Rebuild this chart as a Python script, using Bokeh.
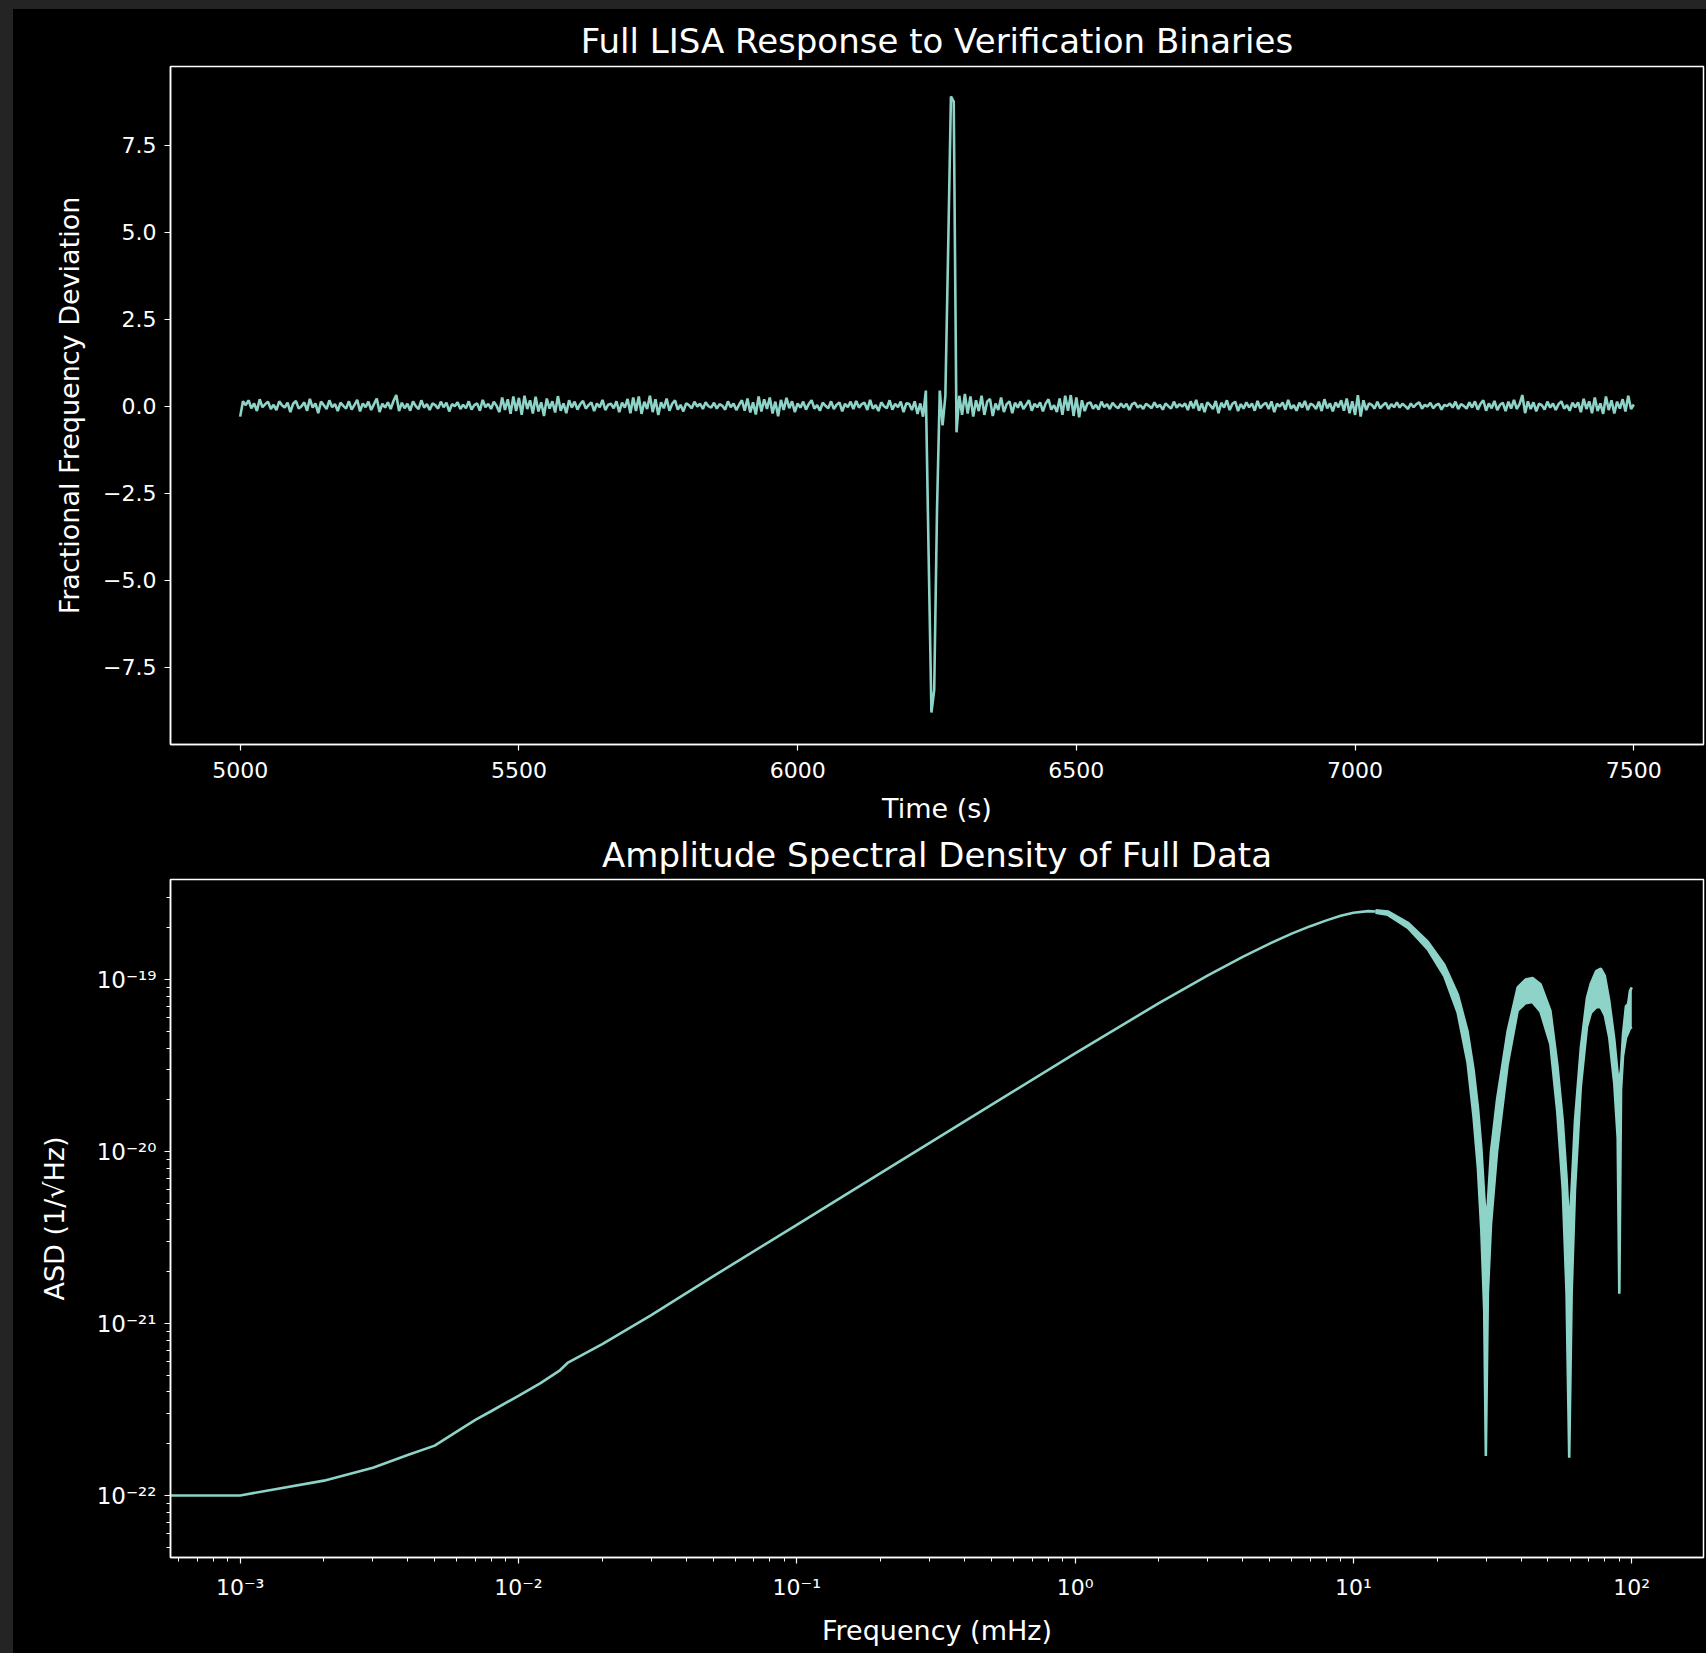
import numpy as np
from bokeh.plotting import figure
from bokeh.layouts import column, row
from bokeh.models import Range1d, FixedTicker, CustomJSTickFormatter, Label, Spacer
from bokeh.embed import file_html
from bokeh.resources import INLINE

# ---------------- data ----------------
# Time series: fractional frequency deviation, sampled every 5 s from 5000 s, in units of 1e-21
t_start = 5000
t_step = 5
ffd_e21 = [
    -30, 14, 3, 17, -6, 8, -14, 20, -3, 6, 13, -8, 4, -11, 14, 3, -4, 10, -17, 7,
    15, -7, 0, 11, -13, 21, -4, 8, -20, 13, 3, -8, 17, -3, 6, -14, 10, 1, -7, 14,
    -10, 4, 18, -15, 8, -3, 13, -11, 6, 22, -17, 7, -4, 11, -8, 15, 32, -14, 10, -6,
    7, -13, 14, 0, -8, 17, -4, 6, -11, 8, 3, -7, 13, -3, 10, -15, 6, 0, 11, -8,
    4, -6, 14, -10, 3, 8, -13, 18, -3, 7, -8, 13, 1, -17, 25, -11, 20, -22, 28, -14,
    24, -25, 30, -8, 17, -21, 27, -15, 11, -28, 22, -7, 14, -18, 29, -13, 8, -20, 17, -4,
    13, -10, 6, 15, -7, 3, 11, -14, 8, -3, 18, -11, 4, 7, -6, 14, -17, 10, -4, 21,
    -20, 25, -14, 28, -22, 13, -8, 30, -17, 20, -25, 11, -6, 22, -13, 7, 17, -10, 4, -15,
    8, 3, -6, 13, -1, 7, -8, 11, 0, -4, 10, -7, 6, 1, -10, 14, -3, 8, -11, 4,
    17, -13, 22, -18, 11, -24, 28, -15, 20, -8, 25, -21, 13, -29, 18, -11, 24, -6, 14, -17,
    8, -4, 13, -10, 6, 17, -7, 3, -13, 10, 1, -6, 14, -8, 4, 11, -15, 7, -3, 13,
    -8, 15, -4, 6, 10, -11, 18, -7, 3, -14, 11, 0, -6, 17, -10, 7, -3, 13, -17, 8,
    7, -11, 14, -22, 8, -30, 45, -430, -880, -815, -300, 45, -55, 30, 450, 890, 875, -75, 30, -25,
    35, -21, 28, -30, 17, -14, 30, -25, 13, 21, -28, 8, -11, 25, -17, 6, 14, -20, 10, -4,
    13, -8, 4, 17, -13, 7, -3, 11, -15, 8, 20, -10, 3, -17, 22, -25, 30, -13, 32, -28,
    25, -32, 17, -14, 8, 11, -7, 4, -10, 13, -3, 6, -8, 10, 0, -6, 8, -4, 7, -11,
    6, 10, -4, 3, -8, 7, 1, -6, 11, -3, 4, -10, 8, 0, -7, 13, -4, 6, -1, 8,
    -11, 14, -6, 18, -13, 8, -17, 11, 3, -8, 15, -20, 10, -4, 17, -11, 7, 13, -14, 6,
    -7, 11, -3, 8, -13, 15, -6, 4, 10, -8, 14, -17, 7, -1, 11, -10, 18, -7, 3, -13,
    10, -4, 15, -11, 7, 3, -8, 13, -14, 20, -6, 8, -15, 11, -3, 17, -13, 22, -20, 14,
    -25, 32, -30, 17, -11, 8, 4, -7, 13, -6, 3, 10, -8, 6, -3, 11, -4, 7, 0, -8,
    8, -3, 6, 11, -7, 4, -1, 10, -6, 3, 7, -10, 4, 0, 8, -4, 13, -8, 6, 1,
    -7, 11, -4, 14, -10, 7, 17, -13, 8, -6, 15, -11, 4, 10, -14, 13, -7, 18, -8, 6,
    32, -20, 14, -8, 11, -15, 7, 3, -10, 13, -4, 8, -11, 6, 14, -7, 3, -13, 10, -3,
    11, -17, 21, -8, 14, -20, 25, -14, 8, -22, 28, -11, 17, -21, 13, -7, 20, -15, 30, -8,
    5,
]

# ASD main curve (frequency in mHz, ASD in 1/sqrt(Hz))
asd_freq_mhz = [5e-4, 1e-3, 2e-3, 3e-3, 4e-3, 5e-3, 6e-3, 7e-3, 8e-3, 1e-2, 1.2e-2, 1.4e-2,
                1.5e-2, 2e-2, 3e-2, 5e-2, 0.1, 0.2, 0.5, 1, 2, 3, 4, 5, 6, 7, 8, 9, 10, 11.3, 12]
asd_value = [1.0e-22, 1.0e-22, 1.22e-22, 1.45e-22, 1.72e-22, 1.95e-22, 2.35e-22, 2.75e-22,
             3.1e-22, 3.8e-22, 4.5e-22, 5.3e-22, 5.9e-22, 7.6e-22, 1.12e-21, 1.88e-21,
             3.75e-21, 7.5e-21, 1.87e-20, 3.72e-20, 7.3e-20, 1.057e-19, 1.357e-19, 1.62e-19,
             1.85e-19, 2.045e-19, 2.21e-19, 2.35e-19, 2.45e-19, 2.5e-19, 2.49e-19]

# High-frequency part: the trace oscillates rapidly, forming a band (upper / lower envelope)
band_freq_mhz = [12, 13.3, 15.7, 18.5, 21.2, 23.7, 25.7, 27.0, 28.0, 28.8, 29.5, 29.9, 30.4,
                 31.2, 32.8, 35.8, 38.9, 41.5, 44.0, 47.0, 51.0, 54.0, 56.5, 58.3, 59.6, 60.8,
                 62.5, 65.6, 69.0, 71.3, 74.5, 77.4, 80.0, 83.0, 86.5, 89.0, 90.2, 91.5, 93.0,
                 95.3, 97.0, 98.5, 100.0]
band_upper = [2.53e-19, 2.49e-19, 2.14e-19, 1.66e-19, 1.22e-19, 8.2e-20, 5.0e-20, 3.0e-20,
              1.8e-20, 1.05e-20, 5.5e-21, 3.9e-21, 5.0e-21, 1.0e-20, 2.0e-20, 5.0e-20, 9.0e-20,
              1.0e-19, 1.02e-19, 9.4e-20, 6.6e-20, 3.2e-20, 1.5e-20, 7.0e-21, 3.5e-21, 6.0e-21,
              1.5e-20, 4.0e-20, 7.8e-20, 9.5e-20, 1.12e-19, 1.16e-19, 1.05e-19, 7.5e-20, 4.5e-20,
              2.8e-20, 2.6e-20, 3.0e-20, 4.8e-20, 7.0e-20, 7.2e-20, 8.6e-20, 9.0e-20]
band_lower = [2.45e-19, 2.38e-19, 2.0e-19, 1.5e-19, 1.05e-19, 6.4e-20, 3.3e-20, 1.6e-20,
              8.0e-21, 3.5e-21, 1.2e-21, 1.7e-22, 1.5e-21, 3.8e-21, 1.0e-20, 3.2e-20, 6.6e-20,
              7.3e-20, 7.4e-20, 6.5e-20, 4.2e-20, 1.7e-20, 6.0e-21, 1.5e-21, 1.66e-22, 1.5e-21,
              6.0e-21, 2.4e-20, 5.3e-20, 6.4e-20, 6.9e-20, 6.9e-20, 6.2e-20, 4.6e-20, 2.5e-20,
              1.2e-20, 1.49e-21, 2.3e-20, 3.6e-20, 4.6e-20, 4.9e-20, 5.2e-20, 5.3e-20]

lin_ticks = [-7.5, -5.0, -2.5, 0.0, 2.5, 5.0, 7.5]
time_ticks = [5000, 5500, 6000, 6500, 7000, 7500]
freq_ticks = [1e-3, 1e-2, 1e-1, 1e0, 1e1, 1e2]
asd_ticks = [1e-22, 1e-21, 1e-20, 1e-19]

# ---------------- styling ----------------
LINE = "#8dd3c7"
FONT = "DejaVu Sans"
PAGE_BG = "#242424"


def style(p, minor=False):
    p.background_fill_color = "black"
    p.border_fill_color = "black"
    p.outline_line_color = "#ffffff"
    p.outline_line_width = 1.5
    p.xgrid.visible = False
    p.ygrid.visible = False
    p.title.text_color = "#ffffff"
    p.title.text_font = FONT
    p.title.text_font_size = "34px"
    p.title.text_font_style = "normal"
    p.title.align = "center"
    for ax in p.axis:
        ax.axis_line_color = "#ffffff"
        ax.axis_line_width = 1.5
        ax.major_tick_line_color = "#ffffff"
        ax.major_tick_line_width = 1.2
        ax.major_tick_in = 0
        ax.major_tick_out = 6
        if minor:
            ax.minor_tick_line_color = "#ffffff"
            ax.minor_tick_line_width = 1
            ax.minor_tick_in = 0
            ax.minor_tick_out = 4
        else:
            ax.minor_tick_line_color = None
        ax.major_label_text_color = "#ffffff"
        ax.major_label_text_font = FONT
        ax.major_label_text_font_size = "22px"
        ax.major_label_standoff = 8
        ax.axis_label_text_color = "#ffffff"
        ax.axis_label_text_font = FONT
        ax.axis_label_text_font_size = "27px"
        ax.axis_label_text_font_style = "normal"
        ax.axis_label_standoff = 12


# ---------------- top: time series ----------------
time_s = t_start + t_step * np.arange(len(ffd_e21))
ffd_scaled = np.array(ffd_e21, dtype=float) / 100.0  # in units of 1e-19

p1 = figure(width=1693, height=819, output_backend="svg", toolbar_location=None,
            title="Full LISA Response to Verification Binaries",
            x_range=Range1d(4875, 7625), y_range=Range1d(-9.72, 9.76),
            min_border_left=157, min_border_right=3, min_border_top=57, min_border_bottom=84)
style(p1)
p1.title.standoff = 11
p1.xaxis.major_label_standoff = 11
p1.yaxis.axis_label_standoff = 15
p1.line(time_s, ffd_scaled, line_color=LINE, line_width=2.6)
p1.xaxis.ticker = FixedTicker(ticks=time_ticks)
p1.yaxis.ticker = FixedTicker(ticks=lin_ticks)
p1.yaxis.formatter = CustomJSTickFormatter(code="return tick.toFixed(1).replace('-', '\u2212');")
p1.xaxis.axis_label = "Time (s)"
p1.yaxis.axis_label = "Fractional Frequency Deviation"
p1.add_layout(Label(x=p1.x_range.start, y=p1.y_range.end, text="1e\u221219", y_offset=4,
                    text_baseline="bottom", text_align="left", text_color="#ffffff",
                    text_font=FONT, text_font_size="21px"))

# ---------------- bottom: ASD ----------------
p2 = figure(width=1693, height=825, output_backend="svg", toolbar_location=None,
            title="Amplitude Spectral Density of Full Data",
            x_axis_type="log", y_axis_type="log",
            x_range=Range1d(5.62e-4, 181), y_range=Range1d(4.36e-23, 3.82e-19),
            min_border_left=157, min_border_right=3, min_border_top=51, min_border_bottom=96)
style(p2, minor=True)
p2.title.standoff = 9
p2.xaxis.major_label_standoff = 11
p2.yaxis.major_label_text_font_size = "23px"
p2.yaxis.axis_label_standoff = 24
p2.line(asd_freq_mhz, asd_value, line_color=LINE, line_width=2.6)
p2.varea(x=band_freq_mhz, y1=band_lower, y2=band_upper, fill_color=LINE)
p2.line(band_freq_mhz, band_upper, line_color=LINE, line_width=2.6)
p2.line(band_freq_mhz, band_lower, line_color=LINE, line_width=2.6)

x_minor = [k * 10.0 ** e for e in range(-4, 3) for k in range(2, 10)]
y_minor = [k * 10.0 ** e for e in range(-23, -18) for k in range(2, 10)]
p2.xaxis.ticker = FixedTicker(ticks=freq_ticks, minor_ticks=x_minor)
p2.yaxis.ticker = FixedTicker(ticks=asd_ticks, minor_ticks=y_minor)
sup_code = """
const e = Math.round(Math.log10(tick));
const sup = {'-':'\u207b','0':'\u2070','1':'\u00b9','2':'\u00b2','3':'\u00b3','4':'\u2074',
             '5':'\u2075','6':'\u2076','7':'\u2077','8':'\u2078','9':'\u2079'};
return '10' + String(e).split('').map(c => sup[c]).join('');
"""
p2.xaxis.formatter = CustomJSTickFormatter(code=sup_code)
p2.yaxis.formatter = CustomJSTickFormatter(code=sup_code)
p2.xaxis.axis_label = "Frequency (mHz)"
p2.yaxis.axis_label = "ASD (1/\u221aHz)"

plots = column(p1, p2, width=1693, styles={"background-color": "black"})
left_strip = Spacer(width=13, height=1644, styles={"background-color": PAGE_BG})
top_strip = Spacer(width=1706, height=9, styles={"background-color": PAGE_BG})
layout = column(top_strip, row(left_strip, plots), styles={"background-color": "black"})

open("out.html", "w").write(file_html(layout, INLINE))
